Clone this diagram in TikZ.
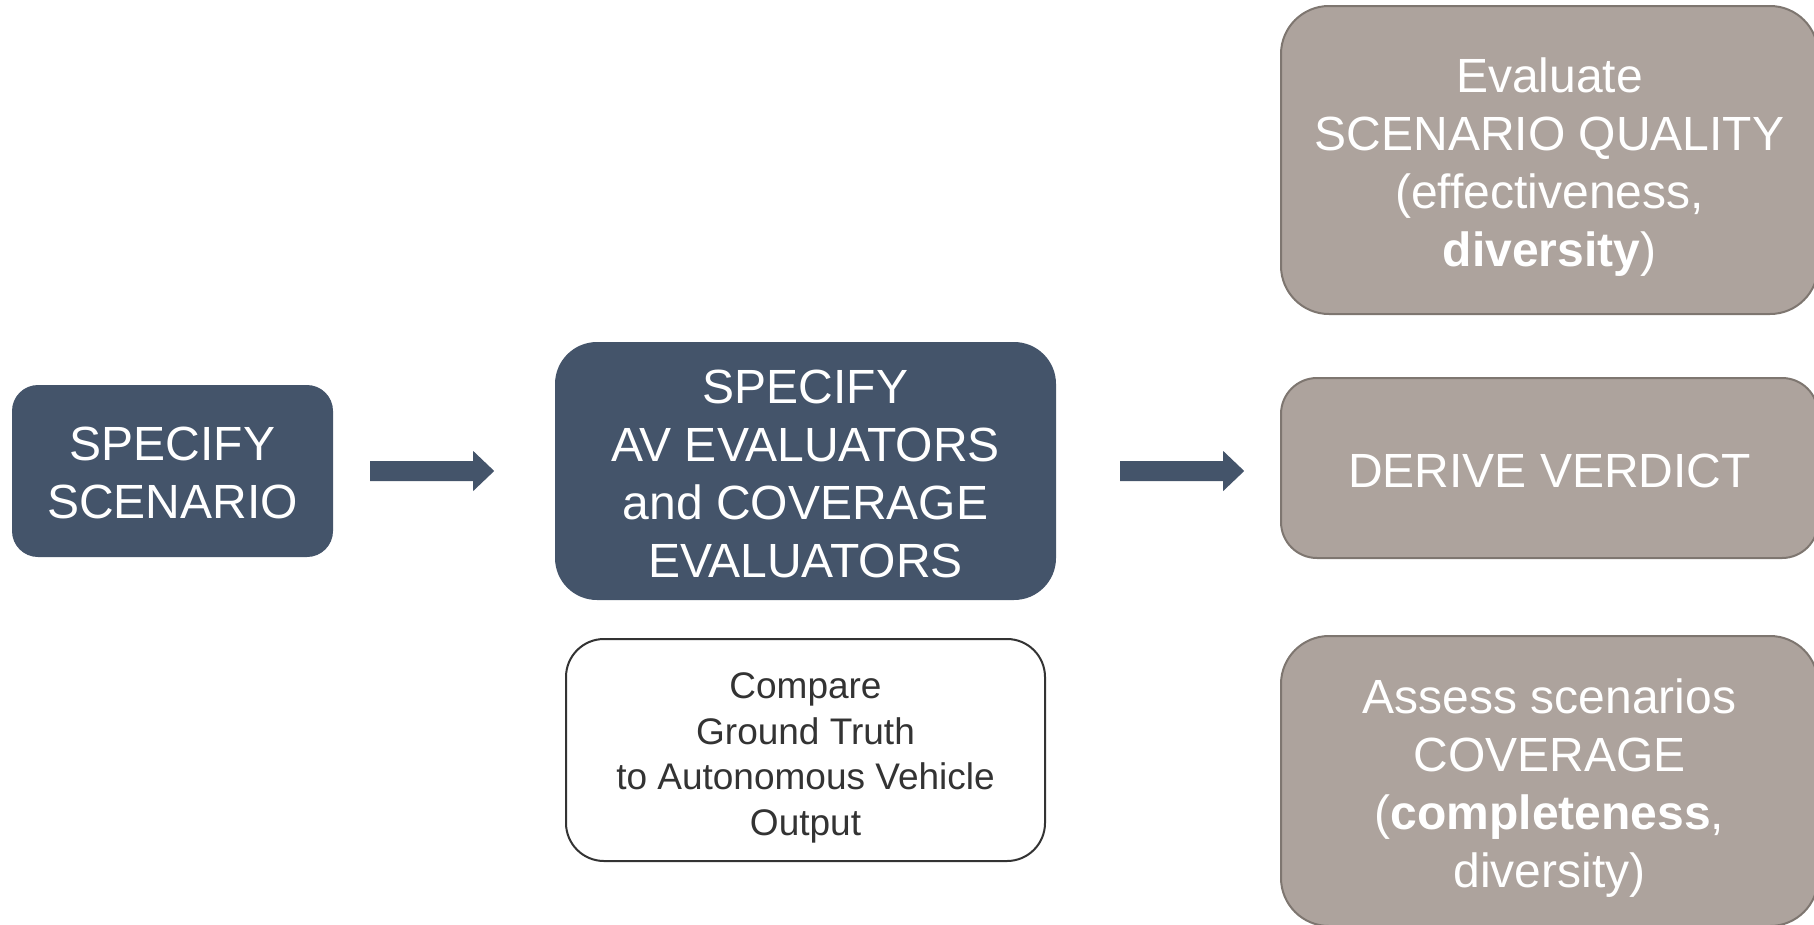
\documentclass[tikz,border=0pt]{standalone}
\usepackage{fontspec}
\setmainfont{Liberation Sans}
\usetikzlibrary{calc}
\definecolor{navy}{HTML}{44546A}
\definecolor{taupe}{HTML}{ADA39D}
\definecolor{taupeline}{HTML}{7E7670}
\definecolor{inkgray}{HTML}{333333}
\tikzset{
  bigtext/.style={font=\fontsize{48}{58}\selectfont, align=center, text=white, inner sep=0pt},
  smalltext/.style={font=\fontsize{37}{45.5}\selectfont, align=center, text=inkgray, inner sep=0pt},
  navybox/.style={fill=navy, draw=none, inner sep=0pt},
  taupebox/.style={fill=taupe, draw=taupeline, line width=2pt, inner sep=0pt,
    minimum width=537pt},
  notebox/.style={fill=white, draw=inkgray, line width=2pt, inner sep=0pt},
  blockarrow/.style={fill=navy, draw=none}
}
\begin{document}
\begin{tikzpicture}[x=1pt,y=-1pt]
\useasboundingbox (0,0) rectangle (1814,924);

% left and centre steps
\node[navybox, minimum width=321pt, minimum height=172pt, rounded corners=26pt]
  (scen) at (172.5,471) {};
\node[bigtext] (scen-t) at ($(scen.center)+(0,2)$) {SPECIFY\\SCENARIO};
\node[navybox, minimum width=501pt, minimum height=258pt, rounded corners=42pt]
  (eval) at (805.5,471) {};
\node[bigtext] (eval-t) at ($(eval.center)+(0,3)$)
  {SPECIFY\\AV EVALUATORS\\and COVERAGE\\EVALUATORS};
\node[notebox, minimum width=479pt, minimum height=222pt, rounded corners=38pt]
  (cmp) at (805.5,750) {};
\node[smalltext] (cmp-t) at ($(cmp.center)+(0,8)$)
  {Compare\\Ground Truth\\to Autonomous Vehicle\\Output};

% outcomes on the right
\node[taupebox, minimum height=308pt, rounded corners=48pt] (qual) at (1549.5,160) {};
\node[bigtext] (qual-t) at ($(qual.center)+(0,7)$)
  {Evaluate\\SCENARIO QUALITY\\(effectiveness,\\\textbf{diversity})};
\node[taupebox, minimum height=180pt, rounded corners=36pt] (verd) at (1549.5,468) {};
\node[bigtext] (verd-t) at ($(verd.center)+(0,3)$) {DERIVE VERDICT};
\node[taupebox, minimum height=290pt, rounded corners=48pt] (cov) at (1549.5,781) {};
\node[bigtext] (cov-t) at ($(cov.center)+(0,7)$)
  {Assess scenarios\\COVERAGE\\(\textbf{completeness},\\diversity)};

% block arrows between the steps
\coordinate (a1) at ($(scen.east)+(37,0)$);
\coordinate (a2) at ($(eval.east)+(64,0)$);
\fill[blockarrow] (a1) ++(0,-10) -- ++(103,0) -- ++(0,-10) -- ++(21,20)
  -- ++(-21,20) -- ++(0,-10) -- ++(-103,0) -- cycle;
\fill[blockarrow] (a2) ++(0,-10) -- ++(103,0) -- ++(0,-10) -- ++(21,20)
  -- ++(-21,20) -- ++(0,-10) -- ++(-103,0) -- cycle;
\end{tikzpicture}
\end{document}
